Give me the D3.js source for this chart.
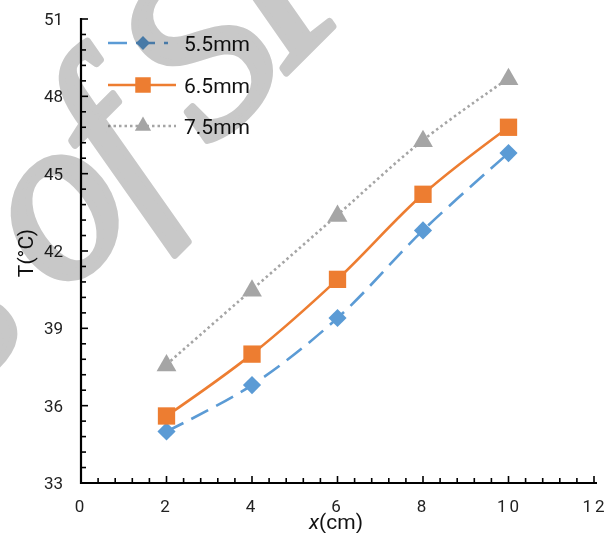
<!DOCTYPE html>
<html>
<head>
<meta charset="utf-8">
<script src="https://cdn.jsdelivr.net/npm/d3@7"></script>
<style>
  body { margin: 0; background: #fff; }
  svg { display: block; }
</style>
</head>
<body>
<script>
// data
const xValues = [2, 4, 6, 8, 10];
const seriesNames = ['5.5mm', '6.5mm', '7.5mm'];
const t55 = [35.0, 36.8, 39.4, 42.8, 45.8];
const t65 = [35.6, 38.0, 40.9, 44.2, 46.8];
const t75 = [37.6, 40.5, 43.4, 46.3, 48.7];
const xTicks = [0, 2, 4, 6, 8, 10, 12];
const yTicks = [33, 36, 39, 42, 45, 48, 51];
const watermark = 'Proceedings of SPIE';

// svg dimensions
const w = 609, h = 533;

const x = d3.scaleLinear().domain([0, 12]).range([81, 594]);
const y = d3.scaleLinear().domain([33, 51]).range([483, 19]);

// diamond = square turned 45deg
const styles = [
    { color: '#5B9BD5', dash: '19,9', marker: d3.symbolSquare, rot: 45, size: 165, lsize: 95 },
    { color: '#ED7D31', dash: null, marker: d3.symbolSquare, rot: 0, size: 300, lsize: 240 },
    { color: '#A5A5A5', dash: '2.5,3', marker: d3.symbolTriangle, rot: 0, size: 170, lsize: 115 }
];
const series = [t55, t65, t75];

const svg = d3.select('body').append('svg')
    .attr('width', w)
    .attr('height', h);

// minor + major ticks, drawn inside the plot
const yMinor = d3.range(33, 51.01, 0.6);
svg.append('g')
    .selectAll('line')
    .data(yMinor)
    .enter()
    .append('line')
    .attr('x1', x(0))
    .attr('x2', d => x(0) + (Math.abs(d / 3 - Math.round(d / 3)) < 0.01 ? 7 : 5))
    .attr('y1', d => y(d))
    .attr('y2', d => y(d))
    .attr('stroke', '#000')
    .attr('stroke-width', 1.6);

const xMinor = d3.range(0, 12.01, 0.4);
svg.append('g')
    .selectAll('line')
    .data(xMinor)
    .enter()
    .append('line')
    .attr('x1', d => x(d))
    .attr('x2', d => x(d))
    .attr('y1', y(33))
    .attr('y2', d => y(33) - (Math.abs(d / 2 - Math.round(d / 2)) < 0.01 ? 7 : 5))
    .attr('stroke', '#000')
    .attr('stroke-width', 1.6);

// axis lines
svg.append('line')
    .attr('x1', x(0)).attr('x2', x(0))
    .attr('y1', y(51) - 1).attr('y2', y(33) + 1)
    .attr('stroke', '#000').attr('stroke-width', 2.2);
svg.append('line')
    .attr('x1', x(0) - 1).attr('x2', x(12) + 3)
    .attr('y1', y(33)).attr('y2', y(33))
    .attr('stroke', '#000').attr('stroke-width', 2.2);

// tick labels
svg.append('g')
    .selectAll('text')
    .data(yTicks)
    .enter()
    .append('text')
    .attr('x', 63)
    .attr('y', d => y(d) + 6)
    .attr('text-anchor', 'end')
    .attr('font-family', 'Roboto, sans-serif')
    .attr('font-size', 17)
    .attr('fill', '#222')
    .text(d => d);

svg.append('g')
    .selectAll('text')
    .data(xTicks)
    .enter()
    .append('text')
    .attr('x', d => x(d) + (d >= 10 ? 1 : 0))
    .attr('y', 512)
    .attr('text-anchor', 'middle')
    .attr('font-family', 'Roboto, sans-serif')
    .attr('font-size', 17)
    .attr('letter-spacing', 3)
    .attr('fill', '#222')
    .text(d => d);

// axis titles
const xt = svg.append('text')
    .attr('x', 336)
    .attr('y', 529)
    .attr('text-anchor', 'middle')
    .attr('font-family', 'Roboto, sans-serif')
    .attr('font-size', 21)
    .attr('fill', '#111');
xt.append('tspan').attr('font-style', 'italic').text('x');
xt.append('tspan').text('(cm)');

svg.append('text')
    .attr('transform', 'translate(33,253) rotate(-90)')
    .attr('text-anchor', 'middle')
    .attr('font-family', 'Roboto, sans-serif')
    .attr('font-size', 21)
    .attr('fill', '#111')
    .text('T(°C)');

// series
const line = d3.line()
    .x((d, i) => x(xValues[i]))
    .y(d => y(d))
    .curve(d3.curveCatmullRom.alpha(0.5));

series.forEach((s, k) => {
    const st = styles[k];
    svg.append('path')
        .datum(s)
        .attr('d', line)
        .attr('fill', 'none')
        .attr('stroke', st.color)
        .attr('stroke-width', 2.6)
        .attr('stroke-dasharray', st.dash);
    svg.append('g')
        .selectAll('path')
        .data(s)
        .enter()
        .append('path')
        .attr('transform', (d, i) => `translate(${x(xValues[i])},${y(d) + (k === 2 ? 1 : 0)}) rotate(${st.rot})`)
        .attr('d', d3.symbol().type(st.marker).size(st.size))
        .attr('fill', st.color);
});

// legend
const legendY = [43, 85, 126];
seriesNames.forEach((name, k) => {
    const st = styles[k];
    const g = svg.append('g').attr('transform', `translate(0,${legendY[k]})`);
    g.append('line')
        .attr('x1', 108).attr('x2', k === 0 ? 168 : 176)
        .attr('y1', 0).attr('y2', 0)
        .attr('stroke', st.color)
        .attr('stroke-width', 2.6)
        .attr('stroke-dasharray', st.dash);
    g.append('path')
        .attr('transform', `translate(143,0) rotate(${st.rot})`)
        .attr('d', d3.symbol().type(st.marker).size(st.lsize))
        .attr('fill', st.color);
    g.append('text')
        .attr('x', 184)
        .attr('y', 8)
        .attr('font-family', 'Roboto, sans-serif')
        .attr('font-size', 21)
        .attr('fill', '#111')
        .text(name);
});

// watermark on top, multiplied; placed so the "o" of "of" sits where it does in the picture
const fs = 235, ang = -45;
const wm = svg.append('g')
    .style('mix-blend-mode', 'multiply')
    .attr('font-family', '"Liberation Serif", serif')
    .attr('font-style', 'italic')
    .attr('font-size', fs)
    .attr('letter-spacing', -10)
    .attr('fill', '#c8c8c8')
    .attr('stroke', '#c8c8c8')
    .attr('stroke-width', 7)
    .attr('stroke-linejoin', 'round');
const wt = wm.append('text').attr('x', 0).attr('y', 0).text(watermark);
const oi = watermark.indexOf('of');
const box = wt.node().getExtentOfChar(oi);
const ox = box.x + box.width / 2 + 0.04 * fs, oy = -0.23 * fs;
const a = ang * Math.PI / 180;
const rx = ox * Math.cos(a) - oy * Math.sin(a);
const ry = ox * Math.sin(a) + oy * Math.cos(a);
wm.attr('transform', `translate(${68 - rx},${215 - ry}) rotate(${ang})`);
</script>
</body>
</html>
